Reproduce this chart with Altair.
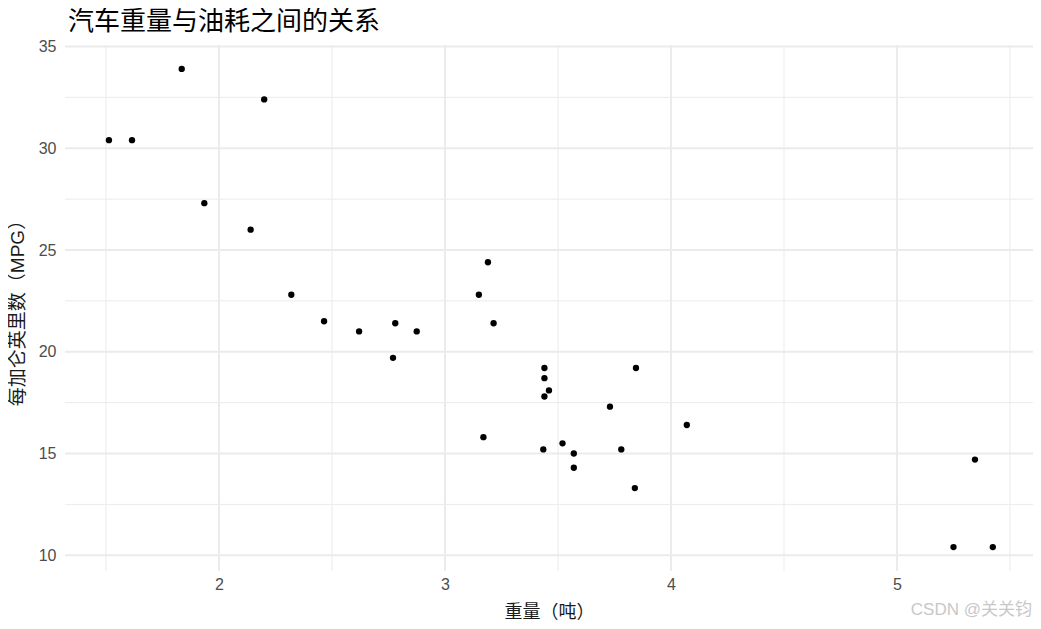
import altair as alt
import pandas as pd

wt = [2.620, 2.875, 2.320, 3.215, 3.440, 3.460, 3.570, 3.190, 3.150, 3.440,
      3.440, 4.070, 3.730, 3.780, 5.250, 5.424, 5.345, 2.200, 1.615, 1.835,
      2.465, 3.520, 3.435, 3.840, 3.845, 1.935, 2.140, 1.513, 3.170, 2.770,
      3.570, 2.780]
mpg = [21.0, 21.0, 22.8, 21.4, 18.7, 18.1, 14.3, 24.4, 22.8, 19.2,
       17.8, 16.4, 17.3, 15.2, 10.4, 10.4, 14.7, 32.4, 30.4, 33.9,
       21.5, 15.5, 15.2, 13.3, 19.2, 27.3, 26.0, 30.4, 15.8, 19.7,
       15.0, 21.4]

x_major = [2, 3, 4, 5]
x_minor = [1.5, 2.5, 3.5, 4.5, 5.5]
y_major = [10, 15, 20, 25, 30, 35]
y_minor = [12.5, 17.5, 22.5, 27.5, 32.5]

x_domain = [1.3186, 5.6018]
y_domain = [9.225, 35.075]

x_title = "重量（吨）"
y_title = "每加仑英里数（MPG）"

df = pd.DataFrame({"wt": wt, "mpg": mpg})

W, H = 968, 526
GRID = "#EBEBEB"
SANS = "Liberation Sans, Noto Sans CJK SC"

xs = alt.Scale(domain=x_domain, nice=False, zero=False)
ys = alt.Scale(domain=y_domain, nice=False, zero=False)

x_axis = alt.Axis(values=x_major, grid=False, domain=False, ticks=False,
                  labelFontSize=16, labelColor="#4D4D4D", labelPadding=5,
                  labelFont="Liberation Sans",
                  titleFont=SANS, titleFontSize=18,
                  titleFontWeight="normal", titleColor="#1A1A1A", titlePadding=11)
y_axis = alt.Axis(values=y_major, grid=False, domain=False, ticks=False,
                  labelFontSize=16, labelColor="#4D4D4D", labelPadding=9,
                  labelFont="Liberation Sans",
                  titleFont=SANS, titleFontSize=19,
                  titleFontWeight="normal", titleColor="#1A1A1A", titlePadding=11)


def X(field):
    return alt.X(field, scale=xs, title=x_title, axis=x_axis)


def Y(field):
    return alt.Y(field, scale=ys, title=y_title, axis=y_axis)


xminor = alt.Chart(pd.DataFrame({"v": x_minor})).mark_rule(color=GRID, strokeWidth=1).encode(x=X("v:Q"))
yminor = alt.Chart(pd.DataFrame({"v": y_minor})).mark_rule(color=GRID, strokeWidth=1).encode(y=Y("v:Q"))
xmajor = alt.Chart(pd.DataFrame({"v": x_major})).mark_rule(color=GRID, strokeWidth=2).encode(x=X("v:Q"))
ymajor = alt.Chart(pd.DataFrame({"v": y_major})).mark_rule(color=GRID, strokeWidth=2).encode(y=Y("v:Q"))

points = alt.Chart(df).mark_circle(size=40, color="black", opacity=1).encode(
    x=X("wt:Q"), y=Y("mpg:Q"))

watermark = alt.Chart(pd.DataFrame({"t": ["CSDN @关关钧"]})).mark_text(
    align="right", baseline="middle", fontSize=17, color="#C8C8C8",
    font=SANS).encode(
    text="t:N", x=alt.value(W - 1), y=alt.value(H + 39))

chart = alt.layer(xminor, yminor, xmajor, ymajor, points, watermark).properties(
    width=W, height=H,
    title=alt.TitleParams("汽车重量与油耗之间的关系", anchor="start", frame="group",
                          fontSize=26, font=SANS, fontWeight="normal",
                          color="#000000", offset=4, dx=3),
    autosize=alt.AutoSizeParams(type="none"),
    padding={"left": 57, "top": 37, "right": 0, "bottom": 50},
).configure_view(stroke=None)

chart.save("out.html", embed_options={"renderer": "svg", "actions": False})
